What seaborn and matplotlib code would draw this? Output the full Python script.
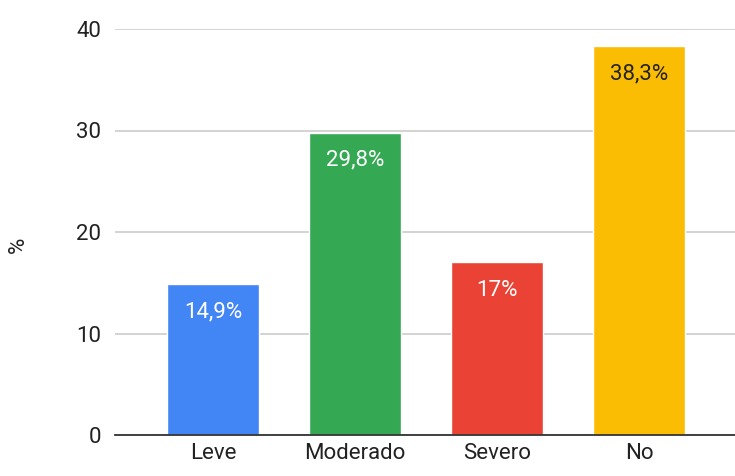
import matplotlib
matplotlib.use("Agg")
import matplotlib.pyplot as plt
import seaborn as sns
import pandas as pd

categories = ["Leve", "Moderado", "Severo", "No"]
values = [14.9, 29.8, 17.0, 38.3]
value_labels = ["14,9%", "29,8%", "17%", "38,3%"]
colors = ["#4285F4", "#34A853", "#EA4335", "#FBBC04"]
label_colors = ["white", "white", "white", "#222222"]
yticks = [0, 10, 20, 30, 40]

sns.set_theme(style="white")
plt.rcParams["font.family"] = ["Roboto", "DejaVu Sans"]

df = pd.DataFrame({"cat": categories, "val": values})

fig = plt.figure(figsize=(7.35, 4.76), dpi=100)
ax = fig.add_axes([115/735, 1 - 435/476, 1 - 115/735, (435 - 29)/476])

sns.barplot(data=df, x="cat", y="val", hue="cat", palette=colors, legend=False,
            width=0.65, ax=ax, saturation=1, zorder=3)

ax.set_ylim(0, 40)
ax.set_xlim(-0.69, 3.676)
ax.set_yticks(yticks)
ax.set_yticklabels([str(t) for t in yticks])
ax.yaxis.grid(True, color="#cccccc", linewidth=1.2, zorder=0)
ax.set_axisbelow(True)
for s in ["top", "right", "left"]:
    ax.spines[s].set_visible(False)
ax.spines["bottom"].set_color("#333333")
ax.spines["bottom"].set_linewidth(1.3)
ax.spines["bottom"].set_zorder(5)
ax.tick_params(axis="both", length=0, labelsize=16, colors="#222222")
ax.tick_params(axis="y", pad=10)
ax.tick_params(axis="x", pad=6)
ax.set_xlabel("")
ax.set_ylabel("")
fig.text(18/735, 1 - 245/476, "%", rotation=90, ha="center", va="center",
         fontsize=16, color="#222222")

for i, (v, lab, c) in enumerate(zip(values, value_labels, label_colors)):
    ax.annotate(lab, xy=(i, v), xytext=(0, -20), textcoords="offset points",
                ha="center", va="center", fontsize=16, color=c, zorder=6)

fig.savefig("out.png", dpi=100)
